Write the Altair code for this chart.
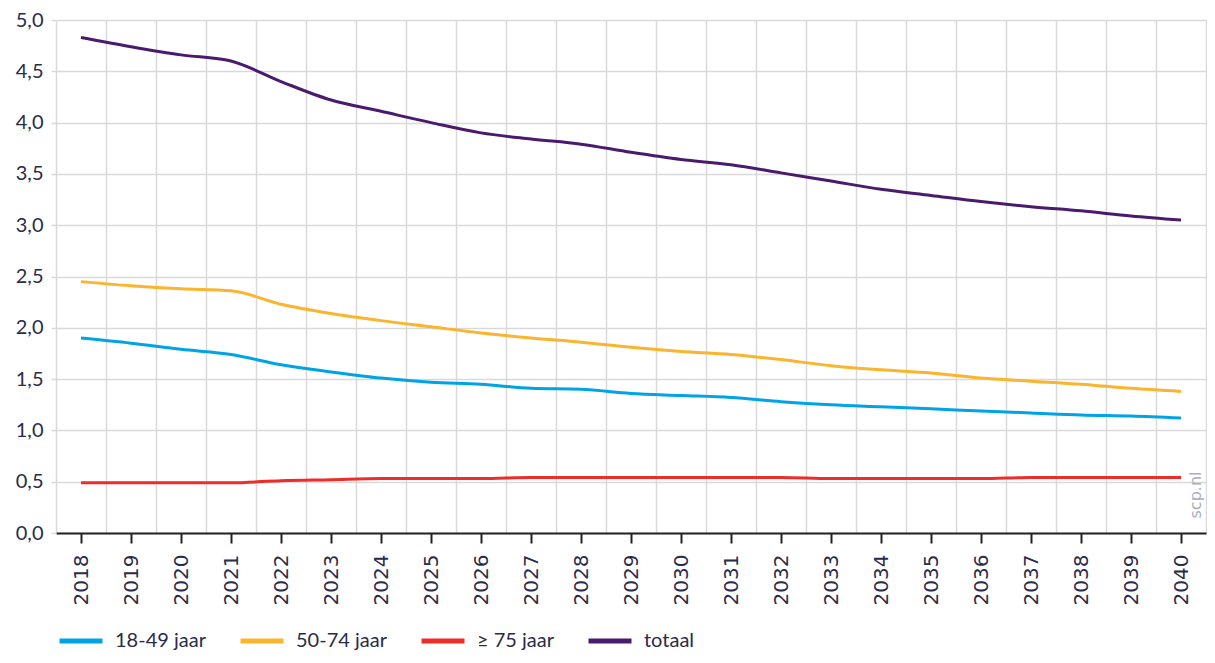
import altair as alt
import pandas as pd

years = list(range(2018, 2041))
series_names = ["18-49 jaar", "50-74 jaar", "≥ 75 jaar", "totaal"]
series_colors = ["#00a3e6", "#fbb42e", "#ee2d2a", "#4a1a6c"]

v_18_49 = [1.90, 1.85, 1.79, 1.74, 1.64, 1.57, 1.51, 1.47, 1.45, 1.41, 1.40, 1.36,
           1.34, 1.32, 1.28, 1.25, 1.23, 1.21, 1.19, 1.17, 1.15, 1.14, 1.12]
v_50_74 = [2.45, 2.41, 2.38, 2.36, 2.23, 2.14, 2.07, 2.01, 1.95, 1.90, 1.86, 1.81,
           1.77, 1.74, 1.69, 1.63, 1.59, 1.56, 1.51, 1.48, 1.45, 1.41, 1.38]
v_75plus = [0.49, 0.49, 0.49, 0.49, 0.51, 0.52, 0.53, 0.53, 0.53, 0.54, 0.54, 0.54,
            0.54, 0.54, 0.54, 0.53, 0.53, 0.53, 0.53, 0.54, 0.54, 0.54, 0.54]
v_totaal = [4.83, 4.74, 4.66, 4.60, 4.40, 4.22, 4.11, 4.00, 3.90, 3.84, 3.79, 3.71,
            3.64, 3.59, 3.51, 3.43, 3.35, 3.29, 3.23, 3.18, 3.14, 3.09, 3.05]

y_ticks = [0, 0.5, 1.0, 1.5, 2.0, 2.5, 3.0, 3.5, 4.0, 4.5, 5.0]
watermark = ["scp.nl"]

rows = []
for name, vals in zip(series_names, [v_18_49, v_50_74, v_75plus, v_totaal]):
    for yr, v in zip(years, vals):
        rows.append({"jaar": yr, "reeks": name, "waarde": v})
df = pd.DataFrame(rows)

boundaries = [y - 0.5 for y in years] + [years[-1] + 0.5]

FONT = "Lato"
XFONT = "DejaVu Sans"
TXT = "#2b2b4a"
GRID = "#d9d9d9"

xscale = alt.Scale(domain=[years[0] - 0.5, years[-1] + 0.5], nice=False, zero=False)
yscale = alt.Scale(domain=[0, 5], nice=False)
yaxis = alt.Axis(values=y_ticks, format=".1f", labelExpr="replace(datum.label, '.', ',')",
                 title=None, domain=False, grid=True, gridColor=GRID, gridWidth=1.5,
                 tickColor=GRID, tickWidth=1.5, tickSize=5, labelPadding=8,
                 labelFont=FONT, labelFontSize=20, labelColor=TXT)

grid_layer = alt.Chart(df).mark_line(opacity=0).encode(
    x=alt.X("jaar:Q", scale=xscale,
            axis=alt.Axis(values=boundaries, grid=True, gridColor=GRID, gridWidth=1.5,
                          labels=False, ticks=False, domain=False, orient="bottom", title=None)),
    y=alt.Y("waarde:Q", scale=yscale, axis=yaxis),
)

lines = alt.Chart(df).mark_line(strokeWidth=3, interpolate="monotone").encode(
    x=alt.X("jaar:Q", scale=xscale,
            axis=alt.Axis(values=years, format="d", labelAngle=-90, grid=False, orient="bottom",
                          title=None, domain=True, domainColor="#222222", domainWidth=2,
                          tickColor="#222222", tickWidth=2, tickSize=10, labelPadding=11,
                          labelFont=XFONT, labelFontSize=20, labelColor=TXT)),
    y=alt.Y("waarde:Q", scale=yscale, axis=yaxis),
    color=alt.Color("reeks:N",
                    scale=alt.Scale(domain=series_names, range=series_colors),
                    sort=series_names,
                    legend=alt.Legend(title=None, orient="none", direction="horizontal",
                                      legendX=1, legendY=597,
                                      symbolType="stroke", symbolSize=1849, symbolStrokeWidth=5,
                                      labelFont=FONT, labelFontSize=20, labelColor=TXT,
                                      labelOffset=10, columnPadding=24, padding=0)),
)

mark_wm = alt.Chart(pd.DataFrame({"t": watermark})).mark_text(
    angle=270, font=XFONT, fontSize=16, color="#a9afbc", align="center", baseline="middle"
).encode(text="t:N", x=alt.value(1140), y=alt.value(475))

chart = alt.layer(grid_layer, lines, mark_wm).resolve_axis(x="independent").properties(
    width=1150, height=513,
    autosize=alt.AutoSizeParams(type="none"),
    padding={"left": 48, "top": 12, "right": 1, "bottom": 122},
).configure_view(stroke=None)

chart.save("out.html", embed_options={"renderer": "svg", "actions": False})
